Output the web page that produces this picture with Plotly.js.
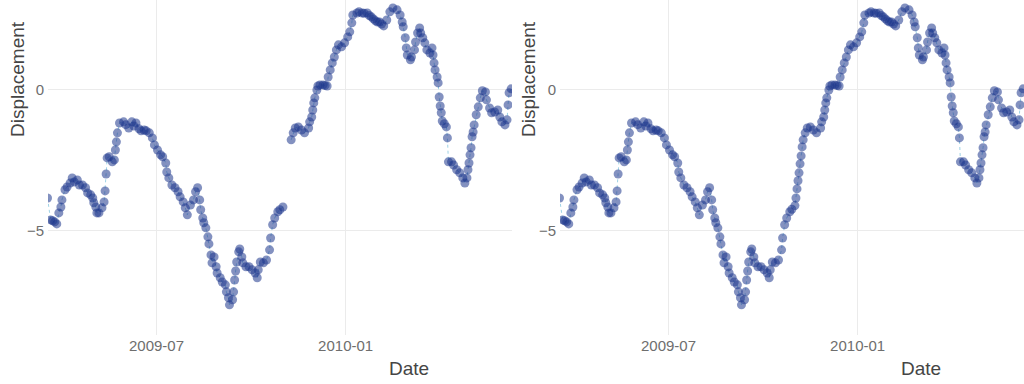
<!DOCTYPE html>
<html>
<head>
<meta charset="utf-8">
<script src="https://cdn.plot.ly/plotly-3.0.1.min.js"></script>
<style>
  html, body { margin: 0; padding: 0; background: #ffffff; }
  #chart { width: 1024px; height: 384px; }
</style>
</head>
<body>
<div id="chart"></div>
<script>
const dates = [
  "2009-03-17","2009-03-20","2009-03-22","2009-03-24","2009-03-26","2009-03-28","2009-03-30","2009-03-31",
  "2009-04-03","2009-04-05","2009-04-08","2009-04-10","2009-04-12","2009-04-15","2009-04-17","2009-04-20",
  "2009-04-23","2009-04-25","2009-04-28","2009-04-30","2009-05-01","2009-05-03","2009-05-04","2009-05-06",
  "2009-05-09","2009-05-11","2009-05-12","2009-05-13","2009-05-14","2009-05-16","2009-05-19","2009-05-21",
  "2009-05-22","2009-05-23","2009-05-24","2009-05-26","2009-05-30","2009-06-01","2009-06-04","2009-06-07",
  "2009-06-09","2009-06-11","2009-06-14","2009-06-16","2009-06-19","2009-06-21","2009-06-24","2009-06-27",
  "2009-06-29","2009-07-02","2009-07-05","2009-07-07","2009-07-10","2009-07-11","2009-07-13","2009-07-16",
  "2009-07-19","2009-07-22","2009-07-24","2009-07-27","2009-07-29","2009-07-31","2009-08-03","2009-08-06",
  "2009-08-08","2009-08-10","2009-08-12","2009-08-13","2009-08-15","2009-08-16","2009-08-18","2009-08-20",
  "2009-08-21","2009-08-23","2009-08-24","2009-08-26","2009-08-28","2009-08-29","2009-09-01","2009-09-03",
  "2009-09-06","2009-09-07","2009-09-09","2009-09-10","2009-09-13","2009-09-14","2009-09-15","2009-09-16",
  "2009-09-17","2009-09-19","2009-09-20","2009-09-22","2009-09-23","2009-09-26","2009-09-29","2009-10-02",
  "2009-10-05","2009-10-07","2009-10-08","2009-10-10","2009-10-13","2009-10-16","2009-10-19","2009-10-20",
  "2009-10-22","2009-10-24","2009-10-27","2009-10-29","2009-11-01","2009-11-02","2009-11-03","2009-11-04",
  "2009-11-05","2009-11-06","2009-11-07","2009-11-08","2009-11-09","2009-11-11","2009-11-13","2009-11-16",
  "2009-11-19","2009-11-22","2009-11-26","2009-11-27","2009-11-29","2009-11-30","2009-12-01","2009-12-02",
  "2009-12-04","2009-12-05","2009-12-07","2009-12-10","2009-12-12","2009-12-14","2009-12-15","2009-12-17",
  "2009-12-19","2009-12-21","2009-12-23","2009-12-25","2009-12-28","2009-12-31","2010-01-03","2010-01-05",
  "2010-01-07","2010-01-08","2010-01-12","2010-01-14","2010-01-17","2010-01-19","2010-01-22","2010-01-24",
  "2010-01-26","2010-01-28","2010-01-30","2010-02-01","2010-02-03","2010-02-05","2010-02-07","2010-02-10",
  "2010-02-13","2010-02-16","2010-02-20","2010-02-23","2010-02-25","2010-02-26","2010-02-28","2010-03-01",
  "2010-03-02","2010-03-05","2010-03-06","2010-03-09","2010-03-10","2010-03-12","2010-03-14","2010-03-15",
  "2010-03-17","2010-03-19","2010-03-21","2010-03-24","2010-03-26","2010-03-27","2010-03-28","2010-03-29",
  "2010-03-31","2010-04-01","2010-04-02","2010-04-03","2010-04-04","2010-04-05","2010-04-07","2010-04-09",
  "2010-04-10","2010-04-11","2010-04-14","2010-04-16","2010-04-19","2010-04-22","2010-04-25","2010-04-27",
  "2010-04-29","2010-04-30","2010-05-01","2010-05-02","2010-05-03","2010-05-04","2010-05-05","2010-05-06",
  "2010-05-08","2010-05-10","2010-05-12","2010-05-14","2010-05-17","2010-05-18","2010-05-21","2010-05-23",
  "2010-05-26","2010-05-29","2010-05-31","2010-06-02","2010-06-05","2010-06-07","2010-06-08","2010-06-09",
  "2010-06-11"
];

// Left panel: series with missing values early in November 2009
const displacementRaw = [
  -3.85,-4.63,-4.66,-4.70,-4.77,-4.38,-4.17,-3.92,
  -3.56,-3.46,-3.32,-3.14,-3.28,-3.21,-3.39,-3.39,
  -3.49,-3.67,-3.74,-3.85,-4.02,-4.17,-4.38,-4.38,
  -4.20,-3.99,-3.60,-3.00,-2.43,-2.39,-2.57,-2.50,
  -2.15,-1.86,-1.54,-1.19,-1.15,-1.25,-1.37,-1.15,
  -1.30,-1.19,-1.40,-1.47,-1.44,-1.47,-1.54,-1.72,
  -1.97,-2.15,-2.32,-2.39,-2.61,-2.93,-3.14,-3.39,
  -3.49,-3.63,-3.81,-3.99,-4.20,-4.45,-4.10,-3.92,
  -3.63,-3.49,-3.92,-4.27,-4.56,-4.73,-4.91,-5.23,
  -5.48,-5.87,-6.15,-5.94,-6.29,-6.51,-6.68,-6.83,
  -6.93,-7.18,-7.39,-7.64,-7.46,-7.18,-6.76,-6.44,
  -6.12,-5.76,-5.66,-5.94,-6.15,-6.29,-6.29,-6.40,
  -6.51,-6.68,-6.40,-6.12,-6.15,-6.05,-5.69,-5.27,
  -4.80,-4.56,-4.34,-4.27,-4.17,null,null,null,
  null,null,null,null,-1.79,-1.54,-1.37,-1.33,
  -1.44,-1.54,-1.37,-1.15,-0.98,-0.73,-0.48,-0.30,
  -0.02,0.12,0.16,0.16,0.14,0.12,0.44,0.69,
  0.94,1.15,1.40,1.58,1.51,1.65,1.86,2.04,
  2.36,2.64,2.71,2.75,2.71,2.70,2.71,2.62,
  2.57,2.50,2.43,2.39,2.39,2.32,2.25,2.46,
  2.75,2.89,2.82,2.64,2.39,2.22,1.83,1.47,
  1.22,1.05,1.15,1.40,1.68,2.00,2.18,2.00,
  1.83,1.65,1.40,1.29,1.47,1.22,0.94,0.69,
  0.44,0.23,-0.27,-0.59,-0.83,-1.12,-1.22,-1.33,
  -1.72,-2.57,-2.57,-2.68,-2.85,-2.96,-3.14,-3.32,
  -3.14,-2.85,-2.61,-2.32,-2.07,-1.68,-1.51,-1.26,
  -0.90,-0.62,-0.30,-0.05,-0.09,-0.37,-0.66,-0.83,
  -0.80,-0.73,-0.98,-1.15,-1.26,-1.08,-0.55,-0.12,
  0.02
];

// Right panel: same series with the November 2009 gap filled
const displacementFilled = [
  -3.85,-4.63,-4.66,-4.70,-4.77,-4.38,-4.17,-3.92,
  -3.56,-3.46,-3.32,-3.14,-3.28,-3.21,-3.39,-3.39,
  -3.49,-3.67,-3.74,-3.85,-4.02,-4.17,-4.38,-4.38,
  -4.20,-3.99,-3.60,-3.00,-2.43,-2.39,-2.57,-2.50,
  -2.15,-1.86,-1.54,-1.19,-1.15,-1.25,-1.37,-1.15,
  -1.30,-1.19,-1.40,-1.47,-1.44,-1.47,-1.54,-1.72,
  -1.97,-2.15,-2.32,-2.39,-2.61,-2.93,-3.14,-3.39,
  -3.49,-3.63,-3.81,-3.99,-4.20,-4.45,-4.10,-3.92,
  -3.63,-3.49,-3.92,-4.27,-4.56,-4.73,-4.91,-5.23,
  -5.48,-5.87,-6.15,-5.94,-6.29,-6.51,-6.68,-6.83,
  -6.93,-7.18,-7.39,-7.64,-7.46,-7.18,-6.76,-6.44,
  -6.12,-5.76,-5.66,-5.94,-6.15,-6.29,-6.29,-6.40,
  -6.51,-6.68,-6.40,-6.12,-6.15,-6.05,-5.69,-5.27,
  -4.80,-4.56,-4.34,-4.25,-4.12,-3.85,-3.53,-3.24,
  -2.96,-2.64,-2.36,-2.04,-1.79,-1.54,-1.37,-1.33,
  -1.44,-1.54,-1.37,-1.15,-0.98,-0.73,-0.48,-0.30,
  -0.02,0.12,0.16,0.16,0.14,0.12,0.44,0.69,
  0.94,1.15,1.40,1.58,1.51,1.65,1.86,2.04,
  2.36,2.64,2.71,2.75,2.71,2.70,2.71,2.62,
  2.57,2.50,2.43,2.39,2.39,2.32,2.25,2.46,
  2.75,2.89,2.82,2.64,2.39,2.22,1.83,1.47,
  1.22,1.05,1.15,1.40,1.68,2.00,2.18,2.00,
  1.83,1.65,1.40,1.29,1.47,1.22,0.94,0.69,
  0.44,0.23,-0.27,-0.59,-0.83,-1.12,-1.22,-1.33,
  -1.72,-2.57,-2.57,-2.68,-2.85,-2.96,-3.14,-3.32,
  -3.14,-2.85,-2.61,-2.32,-2.07,-1.68,-1.51,-1.26,
  -0.90,-0.62,-0.30,-0.05,-0.09,-0.37,-0.66,-0.83,
  -0.80,-0.73,-0.98,-1.15,-1.26,-1.08,-0.55,-0.12,
  0.02
];

const xTitle = "Date";
const yTitle = "Displacement";

const markerStyle = { color: "rgb(30,55,140)", size: 9, opacity: 0.55, line: { width: 0 } };
const lineStyle = { color: "#9fd3e6", width: 1, dash: "3px,3px" };

const traces = [
  { type: "scatter", mode: "lines+markers", x: dates, y: displacementRaw,
    xaxis: "x", yaxis: "y", marker: markerStyle, line: lineStyle,
    connectgaps: false, showlegend: false, hoverinfo: "x+y" },
  { type: "scatter", mode: "lines+markers", x: dates, y: displacementFilled,
    xaxis: "x2", yaxis: "y2", marker: markerStyle, line: lineStyle,
    connectgaps: false, showlegend: false, hoverinfo: "x+y" }
];

const W = 1024, H = 384, ML = 48, MB = 49;
const plotW = W - ML, plotH = H - MB;
const px2x = p => (p - ML) / plotW;
const py2y = p => (plotH - p) / plotH;

const tickFont = { family: "Liberation Sans, Arial, sans-serif", size: 15, color: "#6e6e6e" };
const titleFont = { family: "Liberation Sans, Arial, sans-serif", size: 19, color: "#454545" };
const gridColor = "#ebebeb";
const xRange = ["2009-03-17 11:00", "2010-06-11 20:00"];
const yRange = [-8.71, 3.17];

const xCommon = {
  type: "date", range: xRange, tickformat: "%Y-%m", dtick: "M6", tick0: "2009-01-01",
  showgrid: true, gridcolor: gridColor, gridwidth: 1, zeroline: false, showline: false,
  ticks: "", tickfont: tickFont, fixedrange: true
};
const yCommon = {
  range: yRange, dtick: 5, tick0: 0, showgrid: true, gridcolor: gridColor, gridwidth: 1,
  zeroline: false, showline: false, ticks: "", tickfont: tickFont, fixedrange: true,
  ticklabelstandoff: 3
};

const layout = {
  width: W, height: H,
  margin: { l: ML, r: 0, t: 0, b: MB, pad: 0 },
  paper_bgcolor: "#ffffff", plot_bgcolor: "#ffffff",
  font: { family: "Liberation Sans, Arial, sans-serif" },
  showlegend: false,
  xaxis: Object.assign({}, xCommon, { domain: [0, px2x(512)], anchor: "y" }),
  yaxis: Object.assign({}, yCommon, { domain: [0, 1], anchor: "x" }),
  xaxis2: Object.assign({}, xCommon, { domain: [px2x(560), 1], anchor: "y2" }),
  yaxis2: Object.assign({}, yCommon, { domain: [0, 1], anchor: "x2" }),
  annotations: [
    { text: yTitle, xref: "paper", yref: "paper", x: px2x(17), y: py2y(79),
      xanchor: "center", yanchor: "middle", textangle: -90, showarrow: false, font: titleFont },
    { text: yTitle, xref: "paper", yref: "paper", x: px2x(528), y: py2y(79),
      xanchor: "center", yanchor: "middle", textangle: -90, showarrow: false, font: titleFont },
    { text: xTitle, xref: "paper", yref: "paper", x: px2x(409), y: py2y(368),
      xanchor: "center", yanchor: "middle", showarrow: false, font: titleFont },
    { text: xTitle, xref: "paper", yref: "paper", x: px2x(921), y: py2y(368),
      xanchor: "center", yanchor: "middle", showarrow: false, font: titleFont }
  ]
};

Plotly.newPlot("chart", traces, layout, { displayModeBar: false, staticPlot: true });
</script>
</body>
</html>
